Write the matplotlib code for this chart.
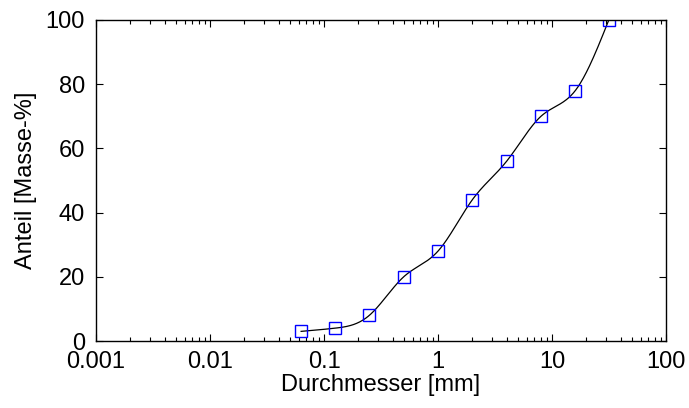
import numpy as np
import matplotlib
matplotlib.use("Agg")
import matplotlib.pyplot as plt
from matplotlib.ticker import FixedLocator, LogLocator, NullFormatter

plt.rcParams["font.family"] = ["Liberation Sans", "DejaVu Sans"]

# Siebdurchmesser und Anteile
durchmesser = [0.063, 0.125, 0.25, 0.5, 1, 2, 4, 8, 16, 31.5]
anteil = [3, 4, 8, 20, 28, 44, 56, 70, 78, 100]
x_ticks = [0.001, 0.01, 0.1, 1, 10, 100]
x_labels = ["0.001", "0.01", "0.1", "1", "10", "100"]
y_ticks = [0, 20, 40, 60, 80, 100]


def natural_spline(x, y, xs):
    # natuerlicher kubischer Spline
    n = len(x)
    h = np.diff(x)
    A = np.zeros((n, n))
    b = np.zeros(n)
    A[0, 0] = A[-1, -1] = 1
    for i in range(1, n - 1):
        A[i, i - 1] = h[i - 1]
        A[i, i] = 2 * (h[i - 1] + h[i])
        A[i, i + 1] = h[i]
        b[i] = 6 * ((y[i + 1] - y[i]) / h[i] - (y[i] - y[i - 1]) / h[i - 1])
    m = np.linalg.solve(A, b)
    idx = np.clip(np.searchsorted(x, xs) - 1, 0, n - 2)
    t = xs - x[idx]
    hi = h[idx]
    a = (m[idx + 1] - m[idx]) / (6 * hi)
    bb = m[idx] / 2
    c = (y[idx + 1] - y[idx]) / hi - hi * (2 * m[idx] + m[idx + 1]) / 6
    return y[idx] + c * t + bb * t**2 + a * t**3


lx = np.log10(durchmesser)
ly = np.array(anteil, dtype=float)
xs = np.linspace(lx[0], lx[-1], 400)
ys = natural_spline(lx, ly, xs)

fig = plt.figure(figsize=(6.89, 4.08), dpi=100)
ax = fig.add_axes([96 / 689, 1 - 341 / 408, 570 / 689, 321 / 408])

ax.plot(10**xs, ys, color="black", lw=0.9)
ax.plot(durchmesser, anteil, "s", mfc="none", mec="#0000ff", ms=8, mew=1.0)

ax.set_xscale("log")
ax.set_xlim(0.001, 100)
ax.set_ylim(0, 100)
ax.xaxis.set_major_locator(FixedLocator(x_ticks))
ax.set_xticklabels(x_labels)
ax.xaxis.set_minor_locator(LogLocator(base=10, subs=np.arange(2, 10)))
ax.xaxis.set_minor_formatter(NullFormatter())
ax.set_yticks(y_ticks)

ax.tick_params(which="both", direction="in", top=True, right=True,
               labelsize=17, colors="black")
ax.tick_params(axis="x", pad=7)
ax.tick_params(axis="y", pad=8)
ax.tick_params(which="major", length=5, width=0.8)
ax.tick_params(which="minor", length=3, width=0.8)
for s in ax.spines.values():
    s.set_linewidth(1.0)

ax.set_xlabel("Durchmesser [mm]", fontsize=17, labelpad=1)
ax.set_ylabel("Anteil [Masse-%]", fontsize=17, labelpad=6)

fig.savefig("out.png", dpi=100)
